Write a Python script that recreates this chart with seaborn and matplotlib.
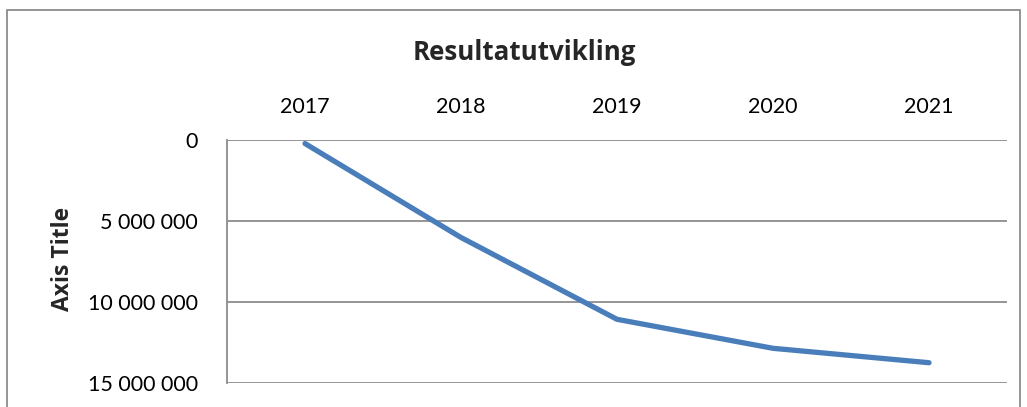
import matplotlib
matplotlib.use("Agg")
import matplotlib.pyplot as plt
import matplotlib.ticker as mticker
from matplotlib.patches import Rectangle
import seaborn as sns
import pandas as pd

years = ["2017", "2018", "2019", "2020", "2021"]
values = [200000, 6000000, 11050000, 12840000, 13730000]
y_ticks = [0, 5000000, 10000000, 15000000]
title = "Resultatutvikling"
y_title = "Axis Title"

sns.set_theme(style="white")
plt.rcParams["font.family"] = ["Lato", "DejaVu Sans"]

W, H = 1027, 407
fig = plt.figure(figsize=(W / 100, H / 100), dpi=100)
ax = fig.add_axes([227 / W, 1 - 383.3 / H, (1007 - 227) / W, (383.3 - 140.3) / H])

df = pd.DataFrame({"year": years, "value": values})
df["pos"] = range(len(years))
sns.lineplot(data=df, x="pos", y="value", ax=ax, color="#4A7EBB", linewidth=3.8,
             solid_capstyle="round", solid_joinstyle="round")

ax.set_xlim(-0.5, len(years) - 0.5)
ax.set_ylim(15000000, 0)
ax.set_yticks(y_ticks)
ax.yaxis.set_major_formatter(mticker.FuncFormatter(lambda v, p: f"{int(v):,}".replace(",", " ")))
ax.set_xticks(range(len(years)))
ax.set_xticklabels(years)
ax.xaxis.tick_top()
ax.tick_params(axis="x", length=0, pad=17, labelsize=15.5, colors="black")
ax.tick_params(axis="y", length=0, pad=21, labelsize=15.5, colors="black")
ax.grid(axis="y", color="#8C8C8C", linewidth=1.3)
ax.set_axisbelow(True)
for s in ["right", "bottom", "top"]:
    ax.spines[s].set_visible(False)
ax.spines["left"].set_color("#8C8C8C")
ax.spines["left"].set_linewidth(1.3)
ax.set_xlabel("")
ax.set_ylabel("")

fig.text(524.5 / W, 1 - 53 / H, title, ha="center", va="center", fontsize=18.6,
         fontweight="bold", family=["Open Sans", "DejaVu Sans"])
fig.text(63 / W, 1 - 259 / H, y_title, ha="center", va="center", rotation=90, fontsize=16.5,
         fontweight="bold", family=["Open Sans", "DejaVu Sans"])

fig.patches.append(Rectangle((7 / W, -0.1), (1020 - 7) / W, (1 - 10 / H) + 0.1,
                             transform=fig.transFigure, fill=False, edgecolor="#8C8C8C", linewidth=1.3))

fig.savefig("out.png", dpi=100)
